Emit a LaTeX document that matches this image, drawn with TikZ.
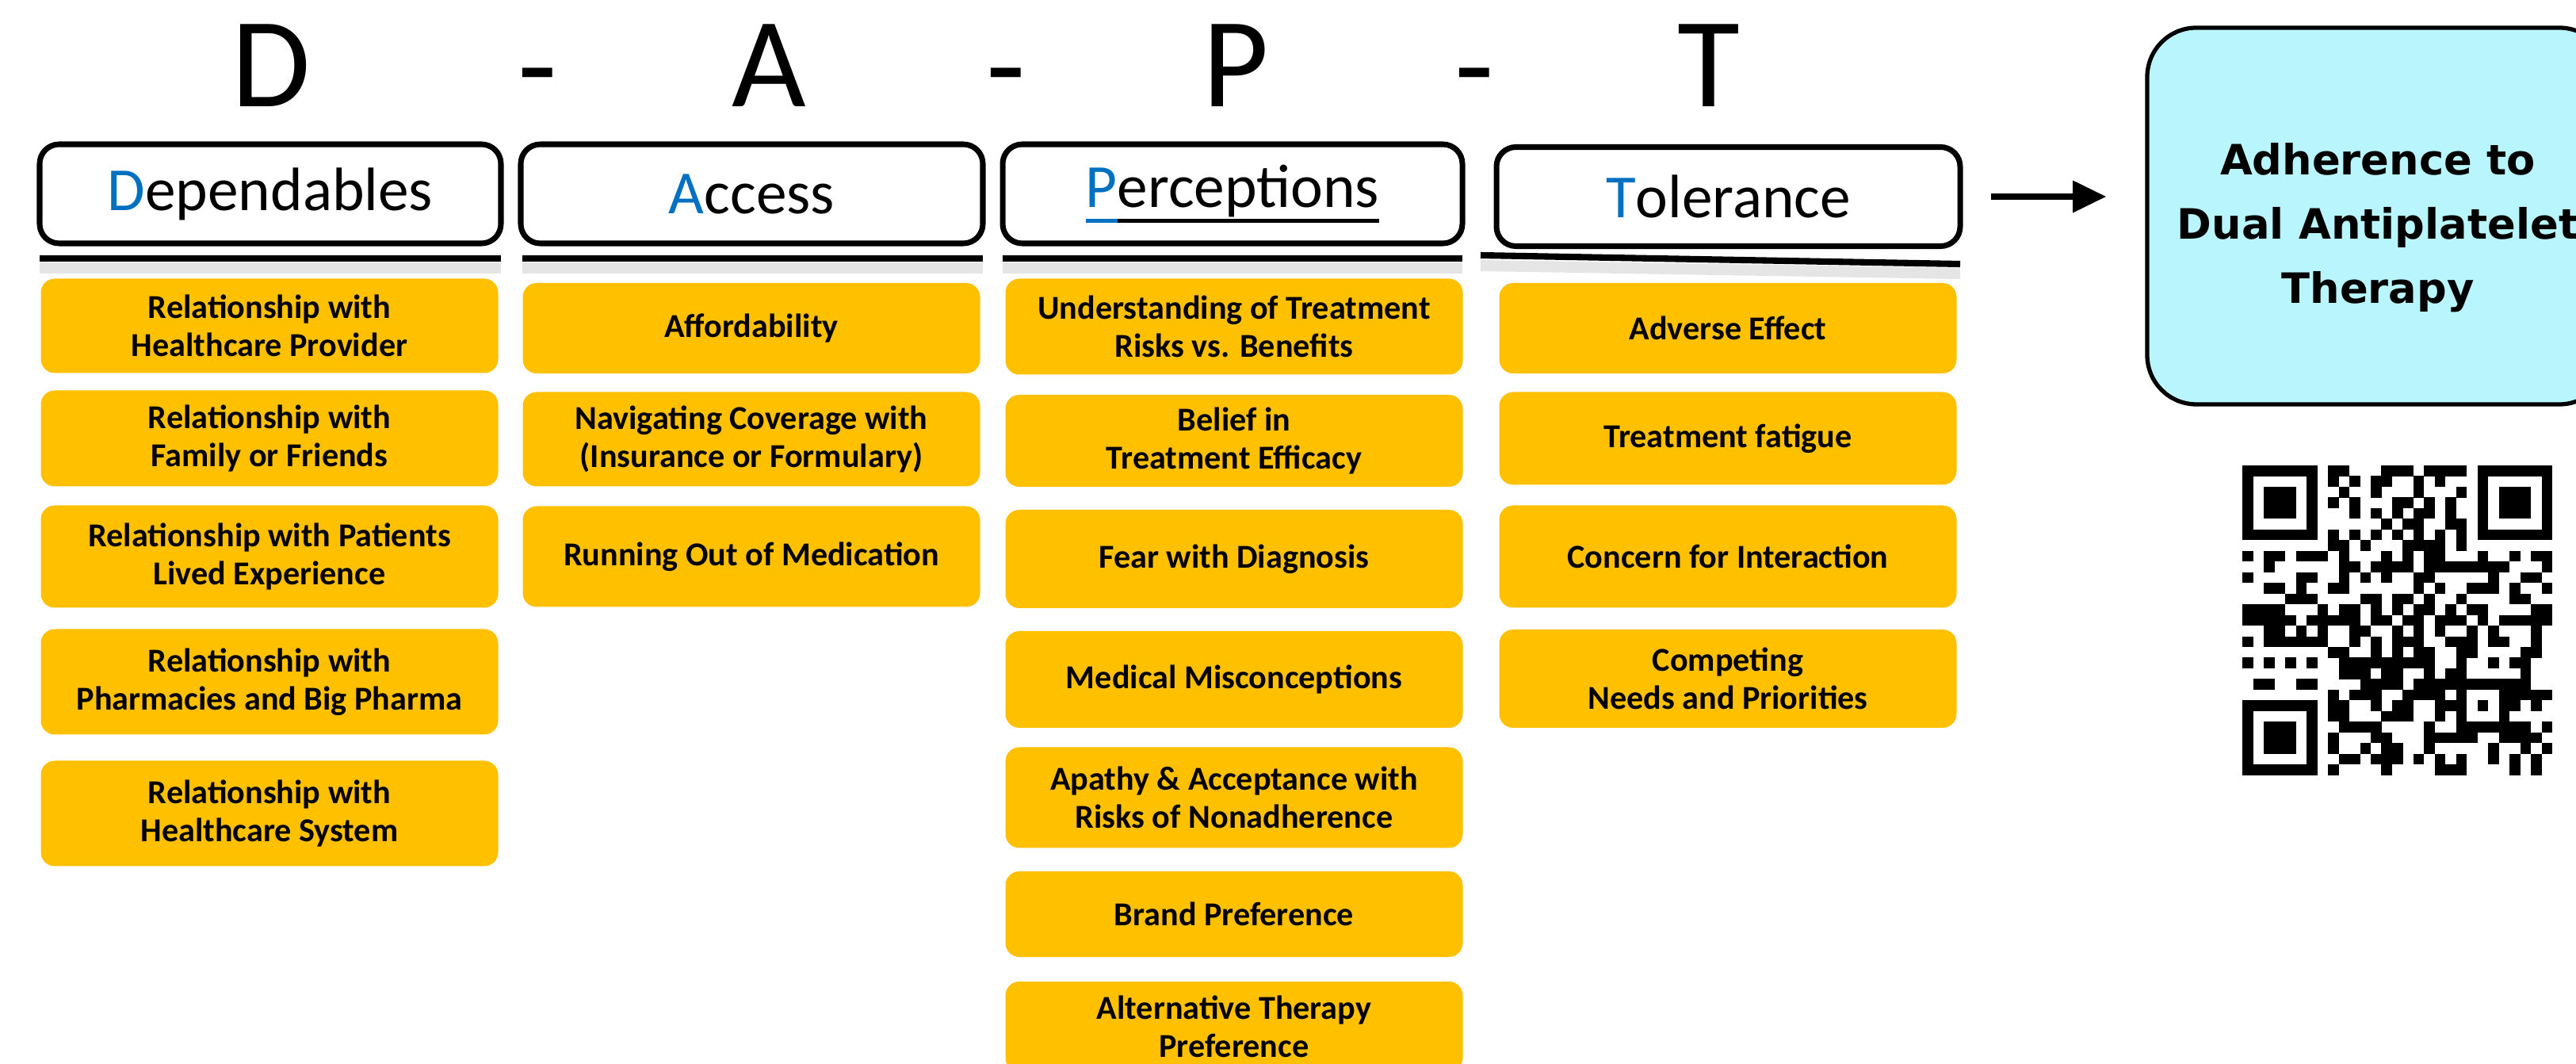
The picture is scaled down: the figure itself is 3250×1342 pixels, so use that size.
\documentclass[tikz,border=0pt]{standalone}
\usepackage{fontspec}
\setmainfont{Carlito}
\newfontfamily\adhfont{DejaVu Sans}
\usetikzlibrary{arrows.meta}
\definecolor{dblue}{RGB}{0,112,192}
\definecolor{ygold}{RGB}{255,192,0}
\definecolor{lcyan}{RGB}{185,245,253}
\newsavebox\myulb
\newcommand\myulbox[1]{\sbox\myulb{#1}\rlap{\raisebox{-5.6pt}{\rule{\wd\myulb}{1.4pt}}}\usebox\myulb}
\begin{document}
\begin{tikzpicture}[x=0.1mm,y=-0.1mm,
  bigl/.style={font=\fontsize{46}{46}\selectfont, inner sep=0, anchor=base},
  hdr/.style={draw, line width=2pt, rounded corners=7pt, fill=white, font=\fontsize{22}{26}\selectfont, minimum height=12.5mm, inner sep=0},
  ybox/.style={fill=ygold, rounded corners=5pt, align=center, font=\bfseries\fontsize{12}{13.8}\selectfont, inner sep=0, minimum width=57.7mm},
  bar/.style={line width=2.3pt},
  barshadow/.style={line width=4pt, black!10},
  qrmod/.style={fill=black}
]
\useasboundingbox (0,0) rectangle (3250,1342);

% big title letters
\node[bigl] (LD) at (342,135) {D};
\node[bigl] (S1) at (678,138) {-};
\node[bigl] (LA) at (970,135) {A};
\node[bigl] (S2) at (1269,138) {-};
\node[bigl] (LP) at (1559,135) {P};
\node[bigl] (S3) at (1860,138) {-};
\node[bigl] (LT) at (2156,135) {T};

% header boxes
\node[hdr, minimum width=58.2mm] (hD) at (341,244.5) {\textcolor{dblue}{D}ependables};
\node[hdr, minimum width=58.3mm] (hA) at (948.5,244.5) {\textcolor{dblue}{A}ccess};
\node[hdr, minimum width=58.0mm] (hP) at (1555,244.5) {{\color{dblue}\myulbox{P}}\myulbox{erceptions}};
\node[hdr, minimum width=58.5mm] (hT) at (2180.5,248) {\textcolor{dblue}{T}olerance};

% bars under headers
\draw[barshadow] (50,338) -- (632,338);
\draw[bar] (50,326) -- (632,326);
\draw[barshadow] (659,338) -- (1240,338);
\draw[bar] (659,326) -- (1240,326);
\draw[barshadow] (1265,338) -- (1845,338);
\draw[bar] (1265,326) -- (1845,326);
\draw[barshadow] (1868,335) -- (2473,345);
\draw[bar] (1868,322) -- (2473,333);

% Dependables column
\node[ybox, minimum height=11.9mm] (d1) at (340,411) {Relationship with\\Healthcare Provider};
\node[ybox, minimum height=12.1mm] (d2) at (340,553) {Relationship with\\Family or Friends};
\node[ybox, minimum height=12.9mm] (d3) at (340,702) {Relationship with Patients\\Lived Experience};
\node[ybox, minimum height=13.3mm] (d4) at (340,860) {Relationship with\\Pharmacies and Big Pharma};
\node[ybox, minimum height=13.3mm] (d5) at (340,1026) {Relationship with\\Healthcare System};

% Access column
\node[ybox, minimum height=11.4mm] (a1) at (948,414) {Affordability};
\node[ybox, minimum height=11.9mm] (a2) at (948,554) {Navigating Coverage with\\(Insurance or Formulary)};
\node[ybox, minimum height=12.7mm] (a3) at (948,702) {Running Out of Medication};

% Perceptions column
\node[ybox, minimum height=12.1mm] (p1) at (1557,412) {Understanding of Treatment\\Risks vs. Benefits};
\node[ybox, minimum height=11.6mm] (p2) at (1557,556) {Belief in\\Treatment Efficacy};
\node[ybox, minimum height=12.4mm] (p3) at (1557,705) {Fear with Diagnosis};
\node[ybox, minimum height=12.2mm] (p4) at (1557,857) {Medical Misconceptions};
\node[ybox, minimum height=12.7mm] (p5) at (1557,1006) {Apathy \& Acceptance with\\Risks of Nonadherence};
\node[ybox, minimum height=10.8mm] (p6) at (1557,1153) {Brand Preference};
\node[ybox, minimum height=11.4mm] (p7) at (1557,1295) {Alternative Therapy\\Preference};

% Tolerance column
\node[ybox, minimum height=11.4mm] (t1) at (2180,414) {Adverse Effect};
\node[ybox, minimum height=11.7mm] (t2) at (2180,553) {Treatment fatigue};
\node[ybox, minimum height=12.9mm] (t3) at (2180,702) {Concern for Interaction};
\node[ybox, minimum height=12.4mm] (t4) at (2180,856) {Competing\\Needs and Priorities};

% outcome box
\node[draw, line width=1.5pt, fill=lcyan, rounded corners=6.2mm, minimum width=58.2mm, minimum height=47.5mm, inner sep=0] (adh) at (3000,272.5) {};
\node[align=center, inner sep=0, font=\adhfont\bfseries\fontsize{15}{23}\selectfont] (adhtext) at ([yshift=-1.5mm]adh.center) {Adherence to\\Dual Antiplatelet\\Therapy};

% arrow
\draw[line width=2.2pt, -{Triangle[length=12pt,width=11pt]}, shorten <=3.5mm, shorten >=4.9mm] (hT.east) -- (hT.east -| adh.west);

% QR code
\foreach \r/\cl in {
0/{0,1,2,3,4,5,6,8,9,13,14,15,17,18,19,20,22,23,24,25,26,27,28},
1/{0,6,8,10,12,13,16,18,22,28},
2/{0,2,3,4,6,9,12,16,20,22,24,25,26,28},
3/{0,2,3,4,6,8,10,14,15,17,19,22,24,25,26,28},
4/{0,2,3,4,6,10,12,14,16,17,19,22,24,25,26,28},
5/{0,6,13,15,16,19,20,22,28},
6/{0,1,2,3,4,5,6,8,10,12,14,16,18,20,22,23,24,25,26,27,28},
7/{8,9,11,15,16,17,18,20},
8/{0,2,3,5,6,7,9,13,15,17,18,22,25,27,28},
9/{2,9,10,12,13,14,15,17,18,19,20,21,22,23,24,28},
10/{0,5,6,9,11,13,16,17,23,26,27},
11/{2,3,5,8,9,16,18,21,22,23,25,28},
12/{4,5,6,11,12,14,15,17,20,25,26},
13/{0,1,2,3,7,9,10,12,14,16,17,19,21,22,27,28},
14/{0,1,2,3,4,6,7,8,9,10,12,13,15,16,18,19,20,22,24,25,26,27,28},
15/{2,3,5,7,10,11,14,16,18,21,23,27},
16/{0,2,3,4,5,6,7,10,12,14,15,16,19,20,21,23,24,27},
17/{8,9,12,14,16,17,20,21,26,27},
18/{0,2,4,6,9,10,11,12,13,14,15,16,17,20,23,25,26},
19/{9,10,11,13,14,17,19,20,26},
20/{1,2,5,6,11,12,13,14,16,17,18,19,20,21,22,23,24,25,26},
21/{8,10,11,12,15,16,17,18,20,24,25,26,27,28},
22/{0,1,2,3,4,5,6,8,9,12,14,15,18,19,20,22,24,25,27},
23/{0,6,8,9,13,14,15,18,20,24},
24/{0,2,3,4,6,9,10,11,12,17,20,21,22,23,24,25,26,28},
25/{0,2,3,4,6,8,12,13,17,18,19,20,21,24,25,26,27},
26/{0,2,3,4,6,8,11,13,14,17,23,26,28},
27/{0,6,9,10,12,13,14,16,18,20,23,25,27},
28/{0,1,2,3,4,5,6,8,13,18,19,20,25,27}}{
  \foreach \c in \cl {
    \fill[qrmod] ({2829.3+\c*13.47},{587+\r*13.47}) rectangle ++(13.6,13.6);
  }
}
\end{tikzpicture}
\end{document}
